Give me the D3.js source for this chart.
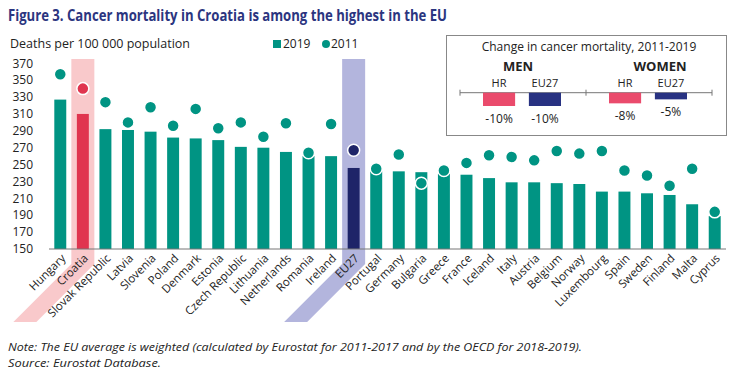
<!DOCTYPE html>
<html>
<head>
<meta charset="utf-8">
<script src="https://cdn.jsdelivr.net/npm/d3@7"></script>
<style>
  body { margin: 0; background: #fff; }
  text { font-family: "Open Sans", sans-serif; fill: #222; }
</style>
</head>
<body>
<div class="canvas"></div>
<script>
const countries = ["Hungary", "Croatia", "Slovak Republic", "Latvia", "Slovenia", "Poland", "Denmark", "Estonia",
  "Czech Republic", "Lithuania", "Netherlands", "Romania", "Ireland", "EU27", "Portugal", "Germany", "Bulgaria",
  "Greece", "France", "Iceland", "Italy", "Austria", "Belgium", "Norway", "Luxembourg", "Spain", "Sweden",
  "Finland", "Malta", "Cyprus"];
const values2019 = [327, 310, 292, 291, 289, 282, 281, 279, 271, 270, 265, 260, 260, 246, 242, 242, 241, 239,
  238, 234, 229, 229, 228, 227, 218, 218, 216, 214, 203, 189];
const values2011 = [357, 340, 324, 300, 318, 296, 316, 293, 300, 283, 299, 264, 298, 267, 245, 262, 228, 243,
  252, 261, 259, 255, 266, 263, 266, 243, 237, 225, 245, 194];
const yTicks = [150, 170, 190, 210, 230, 250, 270, 290, 310, 330, 350, 370];

// inset: change 2011-2019 (%)
const insetGroups = ["MEN", "WOMEN"];
const insetSeries = ["HR", "EU27"];
const insetHR = [-10, -8];
const insetEU = [-10, -5];

const dims = {width: 746, height: 372};
const col = {teal: "#009483", red: "#e0354f", navy: "#1e2468", pink: "#f9c9cb", lilac: "#b3b5dd",
  insetHR: "#ea4b6c", insetEU: "#283282", title: "#2b3580"};

const svg = d3.select(".canvas").append("svg")
  .attr("width", dims.width).attr("height", dims.height);

const data = countries.map((c, i) => ({name: c, v19: values2019[i], v11: values2011[i]}));

const x = d3.scaleBand().domain(countries).range([49, 726]).paddingInner(0.47).paddingOuter(0.235);
const y = d3.scaleLinear().domain([150, 370]).range([249, 63.3]);

// highlight bands (Croatia, EU27)
const bandW = 23, slant = 58, yBreak = 264;
[["Croatia", col.pink], ["EU27", col.lilac]].forEach(([c, fill]) => {
  const cx = x(c) + x.bandwidth() / 2;
  const l = cx - bandW / 2, r = cx + bandW / 2;
  const pts = [[l, 59], [r, 59], [r, yBreak], [r - slant, yBreak + slant], [l - slant, yBreak + slant], [l, yBreak]];
  svg.append("polygon").attr("points", pts.map(p => p.join(",")).join(" ")).attr("fill", fill);
});

const barColor = d => d.name === "Croatia" ? col.red : d.name === "EU27" ? col.navy : col.teal;

// bars 2019
svg.append("g").selectAll("rect").data(data).join("rect")
  .attr("x", d => x(d.name))
  .attr("width", x.bandwidth())
  .attr("y", d => y(d.v19))
  .attr("height", d => y(150) - y(d.v19))
  .attr("fill", barColor);

// dots 2011
svg.append("g").selectAll("circle").data(data).join("circle")
  .attr("cx", d => x(d.name) + x.bandwidth() / 2)
  .attr("cy", d => y(d.v11))
  .attr("r", 6)
  .attr("fill", barColor)
  .attr("stroke", "#fff").attr("stroke-width", 1.5);

// baseline
svg.append("line").attr("x1", 49).attr("x2", 726).attr("y1", y(150)).attr("y2", y(150))
  .attr("stroke", "#777").attr("stroke-width", 1);

// y tick labels
svg.append("g").selectAll("text").data(yTicks).join("text")
  .attr("x", 33).attr("y", d => y(d)).attr("dy", "0.35em")
  .attr("text-anchor", "end").attr("font-size", 12).attr("fill", "#333")
  .text(d => d);

// x labels
svg.append("g").selectAll("text").data(countries).join("text")
  .attr("transform", c => `translate(${x(c) + x.bandwidth() / 2 + 6}, ${y(150) + 10}) rotate(-45)`)
  .attr("text-anchor", "end").attr("font-size", 11.5).attr("fill", "#333")
  .text(c => c);

// title and unit
svg.append("text").attr("x", 8).attr("y", 21)
  .attr("font-size", 15.5).attr("font-weight", "bold").style("fill", col.title)
  .attr("textLength", 439).attr("lengthAdjust", "spacingAndGlyphs")
  .text("Figure 3. Cancer mortality in Croatia is among the highest in the EU");
svg.append("text").attr("x", 10).attr("y", 48).attr("font-size", 12).attr("fill", "#333")
  .attr("textLength", 180).attr("lengthAdjust", "spacingAndGlyphs")
  .text("Deaths per 100 000 population");

// legend
const legend = svg.append("g");
legend.append("rect").attr("x", 273).attr("y", 40).attr("width", 8).attr("height", 8).attr("fill", col.teal);
legend.append("text").attr("x", 283).attr("y", 48).attr("font-size", 12).attr("fill", "#333").text("2019");
legend.append("circle").attr("cx", 326).attr("cy", 44).attr("r", 4).attr("fill", col.teal);
legend.append("text").attr("x", 331).attr("y", 48).attr("font-size", 12).attr("fill", "#333").text("2011");

// inset
const inset = svg.append("g");
inset.append("rect").attr("x", 446.5).attr("y", 35.5).attr("width", 280).attr("height", 100)
  .attr("fill", "#fff").attr("stroke", "#888").attr("stroke-width", 1);
inset.append("text").attr("x", 589).attr("y", 51).attr("text-anchor", "middle").attr("font-size", 12)
  .attr("fill", "#333").text("Change in cancer mortality, 2011-2019");

const gx = d3.scaleBand().domain(insetGroups).range([460, 712]);
const sx = d3.scaleBand().domain(insetSeries).range([23, 101]).paddingInner(0.3);
const iy = d3.scaleLinear().domain([0, -10]).range([92.7, 106]);

inset.append("line").attr("x1", 460).attr("x2", 712).attr("y1", iy(0)).attr("y2", iy(0))
  .attr("stroke", "#777");
[460, 586, 712].forEach(t => inset.append("line").attr("x1", t).attr("x2", t)
  .attr("y1", iy(0) - 3).attr("y2", iy(0) + 3).attr("stroke", "#777"));

insetGroups.forEach((g, gi) => {
  const gw = gx(g);
  inset.append("text").attr("x", gw + (g === "MEN" ? 58 : 74)).attr("y", 71)
    .attr("text-anchor", "middle").attr("font-size", 13).attr("font-weight", "bold").attr("fill", "#222").text(g);
  const vals = [insetHR[gi], insetEU[gi]];
  insetSeries.forEach((s, si) => {
    const bx = gw + sx(s);
    const v = vals[si];
    inset.append("rect").attr("x", bx).attr("width", sx.bandwidth())
      .attr("y", iy(0)).attr("height", iy(v) - iy(0))
      .attr("fill", si === 0 ? col.insetHR : col.insetEU);
    inset.append("text").attr("x", bx + sx.bandwidth() / 2).attr("y", 87)
      .attr("text-anchor", "middle").attr("font-size", 11).attr("fill", "#333").text(s);
    inset.append("text").attr("x", bx + sx.bandwidth() / 2).attr("y", iy(v) + 17)
      .attr("text-anchor", "middle").attr("font-size", 12).attr("fill", "#333").text(v + "%");
  });
});

// notes
svg.append("text").attr("x", 8).attr("y", 351).attr("font-size", 11.5).attr("font-style", "italic")
  .attr("fill", "#444").attr("textLength", 574).attr("lengthAdjust", "spacingAndGlyphs")
  .text("Note: The EU average is weighted (calculated by Eurostat for 2011-2017 and by the OECD for 2018-2019).");
svg.append("text").attr("x", 8).attr("y", 367).attr("font-size", 11.5).attr("font-style", "italic")
  .attr("fill", "#444").attr("textLength", 153).attr("lengthAdjust", "spacingAndGlyphs")
  .text("Source: Eurostat Database.");
</script>
</body>
</html>
